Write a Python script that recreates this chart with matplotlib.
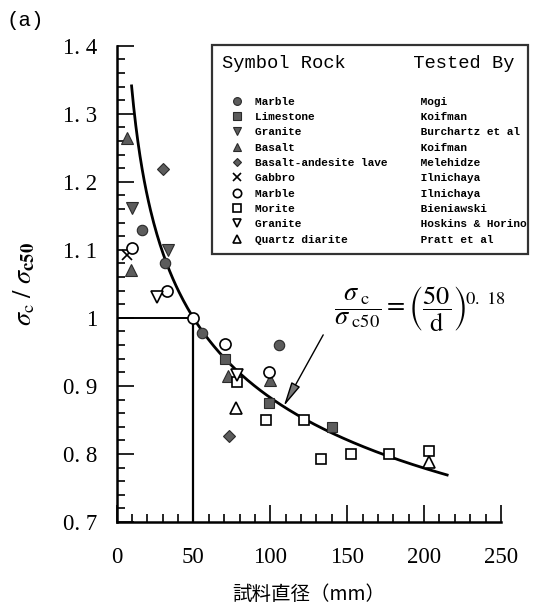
import numpy as np
import matplotlib
matplotlib.use('Agg')
import matplotlib.pyplot as plt

plt.rcParams['mathtext.fontset'] = 'stix'

# legend columns
rocks = ['Marble', 'Limestone', 'Granite', 'Basalt', 'Basalt-andesite lave',
         'Gabbro', 'Marble', 'Morite', 'Granite', 'Quartz diarite']
testers = ['Mogi', 'Koifman', 'Burchartz et al', 'Koifman', 'Melehidze',
           'Ilnichaya', 'Ilnichaya', 'Bieniawski', 'Hoskins & Horino', 'Pratt et al']

# specimen diameter d (mm) and sigma_c / sigma_c50, one pair of lists per series
d_mogi = [16.4, 31.6, 55.5, 105.5]
r_mogi = [1.129, 1.08, 0.978, 0.96]
d_lime = [70.7, 99.0, 140.3]
r_lime = [0.94, 0.875, 0.84]
d_burch = [10.3, 33.8]
r_burch = [1.162, 1.10]
d_basalt = [7.0, 9.3, 72.2, 99.6]
r_basalt = [1.264, 1.071, 0.914, 0.908]
d_lave = [30.1, 72.9]
r_lave = [1.219, 0.826]
d_gabbro = [6.6]
r_gabbro = [1.092]
d_iln = [9.9, 33.1, 50.0, 70.7, 99.4]
r_iln = [1.103, 1.04, 1.0, 0.961, 0.92]
d_bien = [78.4, 97.5, 121.8, 132.7, 152.7, 177.2, 203.3]
r_bien = [0.906, 0.85, 0.85, 0.793, 0.80, 0.80, 0.804]
d_hosk = [26.2, 78.4]
r_hosk = [1.03, 0.916]
d_pratt = [77.7, 203.3]
r_pratt = [0.868, 0.788]

series_d = [d_mogi, d_lime, d_burch, d_basalt, d_lave, d_gabbro, d_iln, d_bien, d_hosk, d_pratt]
series_r = [r_mogi, r_lime, r_burch, r_basalt, r_lave, r_gabbro, r_iln, r_bien, r_hosk, r_pratt]

# fitted size effect curve  sigma_c/sigma_c50 = (d50/d)^k
d50 = 50
k = 0.18
d_start, d_end = 9.8, 215

xticks = [0, 50, 100, 150, 200, 250]
yticks = [0.7, 0.8, 0.9, 1.0, 1.1, 1.2, 1.3, 1.4]
ytick_labels = ['0. 7', '0. 8', '0. 9', '1', '1. 1', '1. 2', '1. 3', '1. 4']

markers = ['o', 's', 'v', '^', 'D', 'x', 'o', 's', 'v', '^']
filled = [True, True, True, True, True, False, False, False, False, False]
sizes = [7.5, 7.5, 8, 8, 6, 7, 8, 7.5, 8, 8]

fig = plt.figure(figsize=(5.48, 6.05), dpi=100)
ax = fig.add_axes([0.2126, 0.1372, 0.7016, 0.7873])

dd = np.linspace(d_start, d_end, 300)
ax.plot(dd, (d50 / dd) ** k, color='black', lw=2.0, zorder=2)

# reference lines at d = 50
ax.plot([0, d50], [1, 1], color='black', lw=1.4, zorder=1)
ax.plot([d50, d50], [0.7, 1], color='black', lw=1.6, zorder=1)

handles = []
for i in range(len(rocks)):
    if markers[i] == 'x':
        h, = ax.plot(series_d[i], series_r[i], ls='none', marker='x', ms=sizes[i],
                     mec='black', mew=1.2, zorder=3)
    elif filled[i]:
        h, = ax.plot(series_d[i], series_r[i], ls='none', marker=markers[i], ms=sizes[i],
                     mfc='#5c5c5c', mec='#2a2a2a', mew=0.8, zorder=3)
    else:
        h, = ax.plot(series_d[i], series_r[i], ls='none', marker=markers[i], ms=sizes[i],
                     mfc='white', mec='black', mew=1.2, zorder=3)
    h.set_label(f"{rocks[i]:<25}{testers[i]}")
    handles.append(h)

leg = ax.legend(handles=handles, loc='upper left', bbox_to_anchor=(0.248, 0.558, 0.822, 0.4435),
                mode='expand', borderaxespad=0, alignment='left',
                title='Symbol Rock      Tested By\n',
                title_fontproperties={'family': 'Liberation Mono', 'size': 13.5},
                prop={'family': 'Liberation Mono', 'size': 8, 'weight': 'bold'},
                handlelength=2.75, handletextpad=0.25, labelspacing=0.48, borderpad=0.87,
                markerscale=0.75, frameon=True, fancybox=False)
leg.get_frame().set_edgecolor('black')
leg.get_frame().set_linewidth(1.6)
leg.set_clip_on(False)

# formula and arrow
ax.annotate('', xy=(108.7, 0.870), xytext=(134.4, 0.975),
            arrowprops=dict(arrowstyle='-|>,head_length=1.5,head_width=0.3',
                            fc='#777777', ec='black', lw=1.0, shrinkA=0, shrinkB=0))
ax.text(197, 1.012,
        r'$\dfrac{\sigma_{\ \mathrm{c}}}{\sigma_{\ \mathrm{c50}}} = '
        r'\left(\dfrac{50}{\mathrm{d}}\right)^{\!\mathrm{0.\ 18}}$',
        fontsize=19, ha='center', va='center')

ax.set_xlim(0, 250)
ax.set_ylim(0.7, 1.4)
ax.set_xticks(xticks)
ax.set_xticks(np.arange(0, 251, 10), minor=True)
ax.set_yticks(yticks, labels=ytick_labels)
ax.set_yticks(np.arange(0.7, 1.401, 0.02), minor=True)
ax.tick_params(which='both', direction='in', width=1.2)
ax.tick_params(which='major', length=12)
ax.tick_params(which='minor', length=6)
ax.tick_params(axis='y', which='major', pad=14)
ax.tick_params(axis='x', which='major', pad=18)
for lab in ax.get_xticklabels() + ax.get_yticklabels():
    lab.set_fontfamily('Liberation Serif')
    lab.set_fontsize(16.5)

for s in ['top', 'right']:
    ax.spines[s].set_visible(False)
for s in ['left', 'bottom']:
    ax.spines[s].set_linewidth(1.8)

ax.set_ylabel(r'$\sigma_{\mathrm{c}}\ /\ \sigma_{\mathbf{c50}}$', fontsize=19)
ax.yaxis.set_label_coords(-0.205, 0.5)
ax.set_xlabel('試料直径（mm）', fontsize=14, fontfamily=['Noto Sans CJK JP', 'DejaVu Sans'])
ax.xaxis.set_label_coords(0.5, -0.13)

fig.text(0.012, 0.982, '(a)', fontsize=15, fontfamily='Liberation Mono', va='top')

fig.savefig('out.png', dpi=100)
